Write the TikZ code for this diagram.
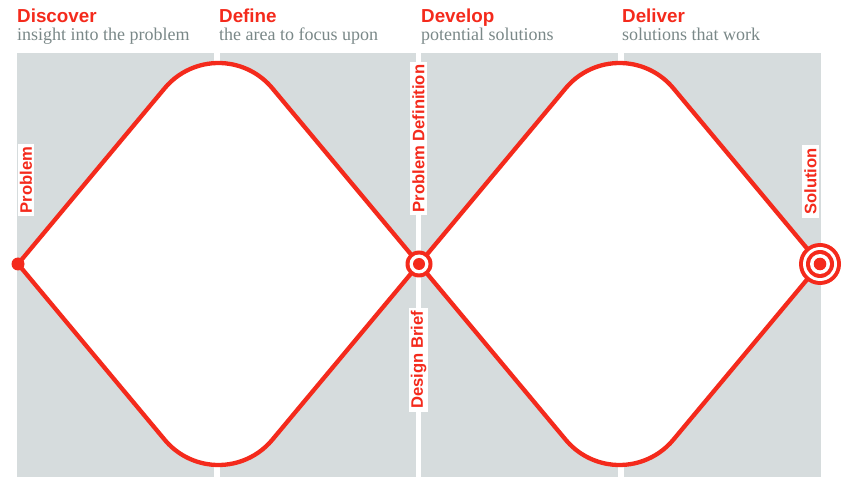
\documentclass[tikz,border=0pt]{standalone}
\usepackage{fontspec}
\setmainfont{Liberation Serif}
\setsansfont{Liberation Sans}
\usetikzlibrary{calc}
\definecolor{dred}{RGB}{244,42,28}
\definecolor{panelgray}{RGB}{214,220,221}
\definecolor{subgray}{RGB}{122,136,136}
\tikzset{
  panel/.style={fill=panelgray, draw=none},
  dline/.style={draw=dred, line width=4.3pt, fill=white, line join=round},
  head/.style={anchor=base west, inner sep=0pt, text=dred, font=\sffamily\bfseries\fontsize{18.8}{20}\selectfont},
  sub/.style={anchor=base west, inner sep=0pt, text=subgray, font=\rmfamily\fontsize{18}{20}\selectfont},
  vlabel/.style={rotate=90, fill=white, text=dred, inner xsep=3pt, inner ysep=2pt, font=\sffamily\bfseries\fontsize{16.6}{18}\selectfont}
}
\begin{document}
\begin{tikzpicture}[x=1pt,y=1pt]
\useasboundingbox (0,0) rectangle (850,490);
% panels
\path[panel] (17,13) rectangle (214,437);
\path[panel] (220,13) rectangle (416,437);
\path[panel] (421,13) rectangle (618,437);
\path[panel] (624,13) rectangle (821,437);
% key points
\coordinate (L1) at (18,226);
\coordinate (M) at (419,226);
\coordinate (R2) at (820,226);
\coordinate (C1t) at (218.5,357);
\coordinate (C1b) at (218.5,95);
\coordinate (C2t) at (619.5,357);
\coordinate (C2b) at (619.5,95);
% diamonds
\path[dline] (L1) -- ($(C1t)+(140.19:70)$) arc[start angle=140.19, end angle=39.81, radius=70]
  -- (M) -- ($(C1b)+(-39.81:70)$) arc[start angle=-39.81, end angle=-140.19, radius=70] -- cycle;
\path[dline] (M) -- ($(C2t)+(140.19:70)$) arc[start angle=140.19, end angle=39.81, radius=70]
  -- (R2) -- ($(C2b)+(-39.81:70)$) arc[start angle=-39.81, end angle=-140.19, radius=70] -- cycle;
% headers
\node[head] (h1) at (17,467.3) {Discover};
\node[sub] (s1) at (17,449) {insight into the problem};
\node[head] (h2) at (219,467.3) {Define};
\node[sub] (s2) at (219,449) {the area to focus upon};
\node[head] (h3) at (421,467.3) {Develop};
\node[sub] (s3) at (421,449) {potential solutions};
\node[head] (h4) at (622,467.3) {Deliver};
\node[sub] (s4) at (622,449) {solutions that work};
% vertical labels
\node[vlabel] (lp) at (26,310) {Problem};
\node[vlabel] (lpd) at (418.5,351.5) {Problem Definition};
\node[vlabel] (ldb) at (418.5,130) {Design Brief};
\node[vlabel] (ls) at (810.5,308.5) {Solution};
% markers
\fill[dred] (L1) circle[radius=6.5];
\fill[dred] (M) circle[radius=13.5];
\fill[white] (M) circle[radius=9.5];
\fill[dred] (M) circle[radius=6];
\fill[dred] (R2) circle[radius=21];
\fill[white] (R2) circle[radius=17];
\fill[dred] (R2) circle[radius=14];
\fill[white] (R2) circle[radius=10];
\fill[dred] (R2) circle[radius=6.3];
\end{tikzpicture}
\end{document}
